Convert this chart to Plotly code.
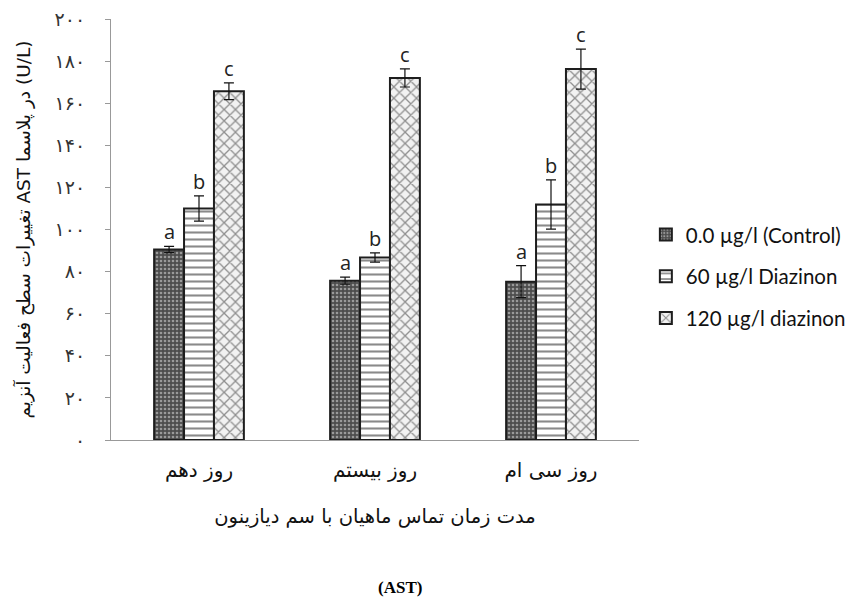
import plotly.graph_objects as go

categories = ["روز دهم", "روز بیستم", "روز سی ام"]
series_names = ["0.0 µg/l (Control)", "60 µg/l Diazinon", "120 µg/l diazinon"]
control = [90.5, 75.7, 75.2]
control_err = [1.5, 1.7, 7.6]
d60 = [110.0, 86.7, 111.9]
d60_err = [6.0, 2.2, 11.7]
d120 = [165.7, 172.0, 176.2]
d120_err = [4.0, 4.3, 9.5]
letters = ["a", "b", "c"]
y_ticks = [0, 20, 40, 60, 80, 100, 120, 140, 160, 180, 200]

fa_digits = str.maketrans("0123456789", "۰۱۲۳۴۵۶۷۸۹")
y_tick_text = [str(v).translate(fa_digits) for v in y_ticks]

values = [control, d60, d120]
errors = [control_err, d60_err, d120_err]
styles = [
    dict(color="#4d4d4d", shape=".", fg="#9a9a9a", bg="#4d4d4d", size=4, sol=0.35),
    dict(color="#ffffff", shape="-", fg="#8a8a8a", bg="#ffffff", size=7, sol=0.3),
    dict(color="#eeeeee", shape="x", fg="#8f8f8f", bg="#f2f2f2", size=8, sol=0.3),
]

bargap = 0.49
fig = go.Figure()
for j in range(3):
    s = styles[j]
    fig.add_trace(go.Bar(
        x=categories, y=values[j], name=series_names[j], legendgroup=str(j),
        marker=dict(color=s["color"], line=dict(color="#1e1e1e", width=2),
                    pattern=dict(shape=s["shape"], fgcolor=s["fg"], bgcolor=s["bg"],
                                 size=s["size"], solidity=s["sol"], fillmode="replace")),
        error_y=dict(type="data", array=errors[j], color="#111111", thickness=1.2, width=5),
    ))

bw = (1 - bargap) / 3
for j in range(3):
    for i in range(3):
        fig.add_annotation(x=i + (j - 1) * bw, y=values[j][i] + errors[j][i],
                           text=letters[j], showarrow=False, yanchor="bottom", yshift=-1,
                           font=dict(family="Open Sans", size=20, color="#222"))

fig.add_annotation(x=0.547, y=-0.377, xref="paper", yref="paper", text="<b>(AST)</b>",
                   showarrow=False, font=dict(family="Liberation Serif", size=17, color="#000"))

fig.update_layout(
    width=850, height=595, barmode="group", bargap=bargap, bargroupgap=0,
    plot_bgcolor="white", paper_bgcolor="white",
    margin=dict(l=103, r=219, t=11, b=163, autoexpand=False),
    legend=dict(x=1.013, y=0.535, xanchor="left", yanchor="top", tracegroupgap=12,
                itemwidth=30,
                font=dict(family="Lato", size=20.5, color="#111")),
    xaxis=dict(showline=True, linecolor="#999", linewidth=1.2, ticks="",
               ticklabelstandoff=12,
               tickfont=dict(family="DejaVu Sans", size=20, color="#111"),
               title=dict(text="مدت زمان تماس ماهیان با سم دیازینون", standoff=28,
                          font=dict(family="DejaVu Sans", size=19.5, color="#111"))),
    yaxis=dict(range=[0, 200], showline=True, linecolor="#999", linewidth=1.2,
               showgrid=False, zeroline=False, ticks="outside", ticklen=5, tickcolor="#999",
               tickvals=y_ticks, ticktext=y_tick_text, ticklabelstandoff=16,
               ticklabeloverflow="allow",
               tickfont=dict(family="DejaVu Sans", size=19, color="#333"),
               title=dict(text="تغییرات سطح فعالیت آنزیم AST در پلاسما (U/L)", standoff=18,
                          font=dict(family="DejaVu Sans", size=18.5, color="#111"))),
)

fig.write_html("out.html")
